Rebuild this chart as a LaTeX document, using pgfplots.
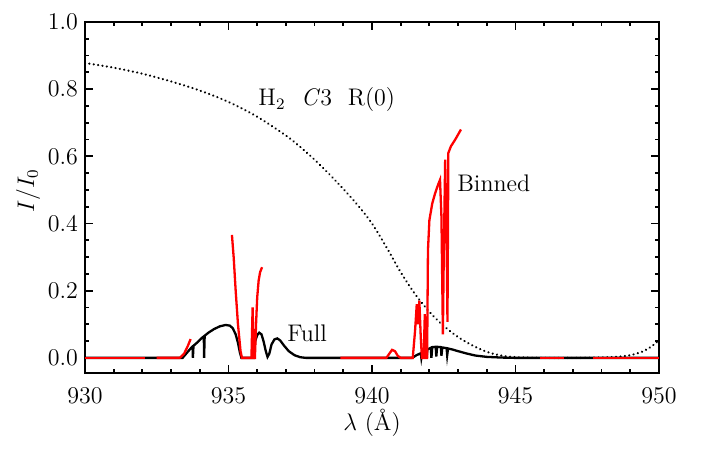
\documentclass[border=0pt]{standalone}
\usepackage{pgfplots}
\pgfplotsset{compat=1.18}
\begin{document}
\begin{tikzpicture}
\path[use as bounding box] (-42.5pt,-39.5pt) rectangle (312pt,186.5pt);
\begin{axis}[
  at={(0,0)}, anchor=south west,
  scale only axis=true, width=287pt, height=175.5pt,
  xmin=930, xmax=950, ymin=-0.045, ymax=1.0,
  xtick={930,935,940,945,950}, minor x tick num=4,
  ytick={0,0.2,0.4,0.6,0.8,1.0}, minor y tick num=3,
  tick align=inside,
  major tick length=4pt, minor tick length=2pt,
  axis line style={line width=1pt},
  every tick/.style={line width=0.9pt, black},
  yticklabel style={/pgf/number format/fixed,/pgf/number format/precision=1,/pgf/number format/fixed zerofill},
  xticklabel style={/pgf/number format/1000 sep={}, yshift=-4pt},
  tick label style={font=\large},
  label style={font=\large},
  xlabel={$\lambda$ (\AA)},
  ylabel={$I/I_0$},
  xlabel style={at={(axis description cs:0.5,-0.142)}, anchor=center},
  ylabel style={at={(axis description cs:-0.099,0.52)}, anchor=center},
  clip=true,
]
% dotted H2 C3 R(0) profile
\addplot[black, line width=1.2pt, line cap=round, dash pattern=on 0.01pt off 2.2pt, smooth, tension=0.5] coordinates {
(930,0.878)(931,0.864)(932,0.846)(933,0.823)(934,0.796)(935,0.762)(936,0.718)(937,0.662)
(937.5,0.628)(938,0.59)(938.5,0.548)(939,0.503)(939.5,0.455)(940,0.400)(940.5,0.330)(941,0.255)
(941.5,0.19)(942,0.137)(942.5,0.095)(943,0.062)(943.5,0.037)(944,0.018)(944.5,0.007)(945,0.002)
(946,0)(947,0)(948,0.001)(948.5,0.003)(949,0.008)(949.4,0.018)(949.7,0.032)(950,0.052)};
% Full (black)
\addplot[black, line width=1.15pt] coordinates {
(930,0)(933.4,0)(933.55,0.015)(933.7,0.03)(933.75,0.034)(933.76,0)(933.78,0.036)(933.9,0.045)
(934.05,0.058)(934.14,0.064)(934.15,0)(934.17,0.066)(934.3,0.075)(934.5,0.086)(934.7,0.094)
(934.9,0.098)(935.05,0.096)(935.15,0.088)(935.25,0.07)(935.33,0.045)(935.4,0.015)(935.45,0)
(935.88,0)(935.93,0.05)(936.0,0.068)(936.07,0.075)(936.15,0.07)(936.22,0.05)(936.3,0.02)
(936.36,0.003)(936.42,0.012)(936.5,0.04)(936.6,0.055)(936.7,0.058)(936.8,0.052)(936.95,0.035)
(937.1,0.02)(937.3,0.008)(937.5,0.002)(937.7,0)(941.4,0)(941.55,0.008)(941.7,0.014)(941.72,0)
(941.75,0.016)(941.88,0.022)(941.9,0)(941.93,0.025)(942.05,0.03)(942.07,0)(942.1,0.032)
(942.22,0.033)(942.24,0.004)(942.27,0.033)(942.4,0.032)(942.42,0.006)(942.45,0.031)(942.6,0.029)
(942.62,0.008)(942.65,0.028)(942.8,0.025)(943.0,0.02)(943.3,0.013)(943.6,0.007)(944.0,0.003)
(944.5,0.001)(945,0)(950,0)};
% Binned (red)
\addplot[red, line width=1.15pt] coordinates {(930,0)(932.1,0)};
\addplot[red, line width=1.15pt] coordinates {(932.5,0)(933.3,0)(933.45,0.012)(933.58,0.035)(933.68,0.056)};
\addplot[red, line width=1.15pt] coordinates {
(935.12,0.366)(935.18,0.3)(935.25,0.2)(935.33,0.1)(935.42,0.02)(935.47,0)(935.8,0)(935.84,0.15)
(935.88,0)(935.92,0)(935.96,0.1)(936.0,0.18)(936.05,0.23)(936.1,0.255)(936.17,0.27)};
\addplot[red, line width=1.15pt] coordinates {
(938.9,0)(940.5,0)(940.6,0.012)(940.7,0.024)(940.8,0.02)(940.9,0.006)(941.0,0)(941.42,0)
(941.5,0.08)(941.56,0.16)(941.6,0.1)(941.65,0.17)(941.7,0.06)(941.74,0)(941.8,0)(941.84,0.13)
(941.87,0)(941.92,0)(941.95,0.32)(942.0,0.41)(942.1,0.46)(942.2,0.49)(942.3,0.515)(942.37,0.53)
(942.42,0.42)(942.47,0.07)(942.5,0.3)(942.55,0.59)(942.6,0.35)(942.63,0.107)(942.66,0.61)
(942.75,0.63)(942.9,0.65)(943.1,0.68)};
\addplot[red, line width=1.15pt] coordinates {(945.85,0)(946.7,0)};
\addplot[red, line width=1.15pt] coordinates {(947.7,0)(950,0)};
\node[anchor=west, inner sep=0pt, font=\large] at (axis cs:936.03,0.768) {H$_2$\ \ \textit{C}3\ \ R(0)};
\node[anchor=west, inner sep=0pt, font=\large] at (axis cs:937.04,0.074) {Full};
\node[anchor=west, inner sep=0pt, font=\large] at (axis cs:942.96,0.521) {Binned};
\end{axis}
\end{tikzpicture}
\end{document}
